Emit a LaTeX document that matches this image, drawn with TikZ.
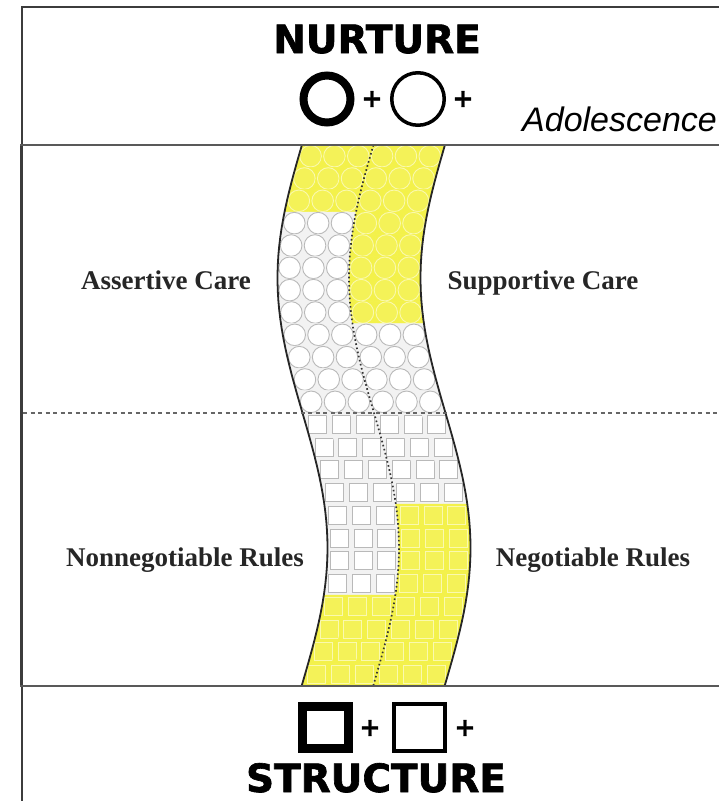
\documentclass[tikz,border=0pt]{standalone}
\usepackage{fontspec}
\setmainfont{Liberation Serif}
\newfontfamily\heavyfont[BoldFeatures={FakeBold=1.6}]{DejaVu Sans}
\newfontfamily\helvfont{Liberation Sans}
\usepackage{tikz}
\usetikzlibrary{positioning}
\definecolor{bandyellow}{RGB}{243,241,74}
\definecolor{framegray}{RGB}{60,60,60}

\tikzset{
    declare function={xc(\y)=374+25*sin(2*(\y-413)/3);},
    title/.style={font=\heavyfont\bfseries\fontsize{39}{39}\selectfont, anchor=base, inner sep=0pt},
    side/.style={font=\bfseries\fontsize{27}{27}\selectfont, text=black!85, anchor=base, inner sep=0pt},
    plussign/.style={font=\heavyfont\bfseries\fontsize{25}{25}\selectfont, inner sep=0pt},
    cellyellow/.style={fill=bandyellow, draw=bandyellow, line width=0.5pt},
    cellwhite/.style={fill=gray!10, draw=gray!10, line width=0.5pt},
    ringyellow/.style={draw=bandyellow!45!white, fill=bandyellow!92!white, line width=0.9pt},
    ringwhite/.style={draw=gray!55, fill=white, line width=0.9pt},
    bandedge/.style={draw=gray!30!black, line width=1.8pt},
    midline/.style={draw=gray!40!black, line width=1.7pt, dash pattern=on 1.6pt off 2.6pt}
}

\begin{document}
\begin{tikzpicture}[x=1pt, y=-1pt]
    \useasboundingbox (0,0) rectangle (719,801);
    \fill[white] (0,0) rectangle (719,801);
    \foreach \ri in {0,...,11} {
        \foreach \ci in {0,...,5} {
            \pgfmathsetmacro\ya{145+22.333*\ri}
            \pgfmathsetmacro\yb{\ya+22.333}
            \pgfmathsetmacro\ym{\ya+11.167}
            \pgfmathsetmacro\xa{xc(\ya)-71.5+23.833*\ci}
            \pgfmathsetmacro\xb{xc(\yb)-71.5+23.833*\ci}
            \pgfmathsetmacro\xm{xc(\ym)-71.5+23.833*(\ci+0.5)}
            \pgfmathtruncatemacro\isy{or(and(\ci<3,\ri<3),and(\ci>2,\ri<8))}
            \ifnum\isy=1
                \path[cellyellow] (\xa,\ya) -- (\xa+23.833,\ya) -- (\xb+23.833,\yb) -- (\xb,\yb) -- cycle;
                \path[ringyellow] (\xm,\ym) circle (10.8pt);
            \else
                \path[cellwhite] (\xa,\ya) -- (\xa+23.833,\ya) -- (\xb+23.833,\yb) -- (\xb,\yb) -- cycle;
                \path[ringwhite] (\xm,\ym) circle (10.8pt);
            \fi
        }
    }
    \foreach \ri in {0,...,11} {
        \foreach \ci in {0,...,5} {
            \pgfmathsetmacro\ya{413+22.75*\ri}
            \pgfmathsetmacro\yb{\ya+22.75}
            \pgfmathsetmacro\ym{\ya+11.375}
            \pgfmathsetmacro\xa{xc(\ya)-71.5+23.833*\ci}
            \pgfmathsetmacro\xb{xc(\yb)-71.5+23.833*\ci}
            \pgfmathsetmacro\xm{xc(\ym)-71.5+23.833*(\ci+0.5)}
            \pgfmathtruncatemacro\isy{or(and(\ci>2,\ri>3),and(\ci<3,\ri>7))}
            \ifnum\isy=1
                \path[cellyellow] (\xa,\ya) -- (\xa+23.833,\ya) -- (\xb+23.833,\yb) -- (\xb,\yb) -- cycle;
                \path[ringyellow] (\xm-9,\ym-9) rectangle (\xm+9,\ym+9);
            \else
                \path[cellwhite] (\xa,\ya) -- (\xa+23.833,\ya) -- (\xb+23.833,\yb) -- (\xb,\yb) -- cycle;
                \path[ringwhite] (\xm-9,\ym-9) rectangle (\xm+9,\ym+9);
            \fi
        }
    }
    \draw[bandedge] plot[domain=145:686, samples=60, variable=\t] ({xc(\t)-71.5},\t);
    \draw[bandedge] plot[domain=145:686, samples=60, variable=\t] ({xc(\t)+71.5},\t);
    \draw[midline] plot[domain=145:686, samples=60, variable=\t] ({xc(\t)},\t);

    \draw[framegray, line width=2pt] (22,801) -- (22,7) -- (719,7);
    \draw[framegray, line width=3.2pt] (21.5,145) -- (21.5,686);
    \draw[gray!70!black, line width=1.8pt] (20,145) -- (719,145);
    \draw[gray!70!black, line width=1.8pt] (20,686) -- (719,686);
    \draw[gray!80!black, line width=1.3pt, dash pattern=on 4pt off 3.5pt] (23,413) -- (719,413);

    \node[title] (nurture) at (377,53) {NURTURE};
    \node[circle, draw, line width=8pt, minimum size=47pt, inner sep=0pt] (thickring) at (327,99) {};
    \node[plussign] (plusa) at (372,99) {+};
    \node[circle, draw, line width=3.5pt, minimum size=52.5pt, inner sep=0pt] (thinring) at (418,99) {};
    \node[plussign] (plusb) at (463,99) {+};
    \node[font=\helvfont\itshape\fontsize{34}{34}\selectfont, anchor=base west, inner sep=0pt] (adolescence) at (522,131) {Adolescence};

    \node[side] (assertive) at (166,289) {Assertive Care};
    \node[side] (supportive) at (543,289) {Supportive Care};
    \node[side] (nonnegotiable) at (185,566) {Nonnegotiable Rules};
    \node[side] (negotiable) at (593,566) {Negotiable Rules};

    \node[rectangle, draw, line width=9pt, minimum width=46pt, minimum height=42pt, inner sep=0pt] (thickbox) at (325.5,727.5) {};
    \node[plussign] (plusc) at (370,728) {+};
    \node[rectangle, draw, line width=4pt, minimum width=51pt, minimum height=47pt, inner sep=0pt] (thinbox) at (419.5,727.5) {};
    \node[plussign] (plusd) at (465,728) {+};
    \node[title] (structure) at (376,792) {STRUCTURE};
\end{tikzpicture}
\end{document}
